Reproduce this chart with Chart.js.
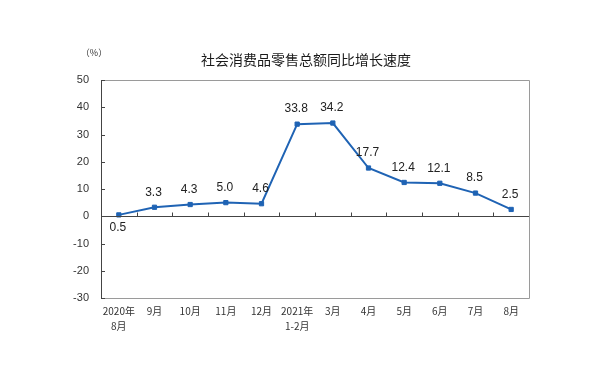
<!DOCTYPE html>
<html><head><meta charset="utf-8">
<script src="https://cdn.jsdelivr.net/npm/chart.js@4/dist/chart.umd.min.js"></script>
<style>html,body{margin:0;padding:0;background:#fff}#w{width:609px;height:389px}</style>
</head><body><div id="w"><canvas id="c" width="609" height="389"></canvas></div>
<script>
const categories = [['2020年','8月'],'9月','10月','11月','12月',['2021年','1-2月'],'3月','4月','5月','6月','7月','8月'];
const growth = [0.5, 3.3, 4.3, 5.0, 4.6, 33.8, 34.2, 17.7, 12.4, 12.1, 8.5, 2.5];
const yTicks = [50, 40, 30, 20, 10, 0, -10, -20, -30];
const titleText = '社会消费品零售总额同比增长速度';
const unitText = '（%）';

const BLUE = '#1f63b4';
const CJK = '"Noto Sans CJK SC", "Liberation Sans", sans-serif';

const decor = {
  id: 'decor',
  afterDraw(chart) {
    const ctx = chart.ctx, a = chart.chartArea;
    const x = chart.scales.x, y = chart.scales.y;
    ctx.save();
    ctx.strokeStyle = '#9a9a9a'; ctx.lineWidth = 1;
    ctx.beginPath();
    ctx.moveTo(a.left, a.top + 0.5); ctx.lineTo(a.right + 0.5, a.top + 0.5);
    ctx.lineTo(a.right + 0.5, a.bottom + 0.5); ctx.lineTo(a.left, a.bottom + 0.5);
    ctx.stroke();
    const y0 = Math.round(y.getPixelForValue(0)) + 0.5;
    ctx.strokeStyle = '#444';
    ctx.beginPath(); ctx.moveTo(a.left, y0); ctx.lineTo(a.right, y0); ctx.stroke();
    ctx.beginPath();
    for (let i = 1; i < categories.length; i++) {
      const px = Math.round((x.getPixelForValue(i - 1) + x.getPixelForValue(i)) / 2) + 0.5;
      ctx.moveTo(px, y0); ctx.lineTo(px, y0 - 4);
    }
    ctx.stroke();
    ctx.beginPath();
    yTicks.forEach(v => {
      const py = Math.round(y.getPixelForValue(v)) + 0.5;
      ctx.moveTo(a.left, py); ctx.lineTo(a.left + 4, py);
    });
    ctx.stroke();
    ctx.beginPath(); ctx.moveTo(a.left + 0.5, a.top); ctx.lineTo(a.left + 0.5, a.bottom + 1); ctx.stroke();
    ctx.fillStyle = '#1a1a1a';
    ctx.font = '14px ' + CJK;
    ctx.textAlign = 'center'; ctx.textBaseline = 'middle';
    ctx.fillText(titleText, 306, 60);
    ctx.font = '9px ' + CJK;
    ctx.fillStyle = '#333';
    ctx.fillText(unitText, 94, 53);
    const meta = chart.getDatasetMeta(0);
    ctx.font = '12px "Liberation Sans", Arial, sans-serif';
    ctx.fillStyle = '#222';
    meta.data.forEach((pt, i) => {
      const v = growth[i];
      const below = i === 0;
      ctx.fillText(v.toFixed(1), pt.x - 1, below ? pt.y + 13 : pt.y - 15);
    });
    ctx.restore();
  }
};

new Chart(document.getElementById('c'), {
  type: 'line',
  data: {
    labels: categories,
    datasets: [{
      data: growth,
      borderColor: BLUE,
      backgroundColor: BLUE,
      borderWidth: 2,
      pointStyle: 'rect',
      pointRadius: 3,
      pointBorderWidth: 1,
      tension: 0
    }]
  },
  options: {
    responsive: false,
    animation: false,
    devicePixelRatio: 1,
    layout: { padding: { left: 61, right: 80, top: 80, bottom: 51 } },
    plugins: { legend: { display: false }, tooltip: { enabled: false }, title: { display: false } },
    scales: {
      x: {
        offset: true,
        grid: { display: false, drawTicks: false },
        border: { display: false },
        ticks: { font: { family: CJK, size: 10, lineHeight: 1.45 }, color: '#333', padding: 6, maxRotation: 0, autoSkip: false },
        afterFit(s) { s.height = 40; }
      },
      y: {
        min: -30, max: 50,
        afterBuildTicks(s) { s.ticks = yTicks.map(v => ({ value: v })); },
        grid: { display: false, drawTicks: false },
        border: { display: false },
        ticks: { font: { family: '"Liberation Sans", Arial, sans-serif', size: 11 }, color: '#333', padding: 12 },
        afterFit(s) { s.width = 40; }
      }
    }
  },
  plugins: [decor]
});
</script>
</body></html>
